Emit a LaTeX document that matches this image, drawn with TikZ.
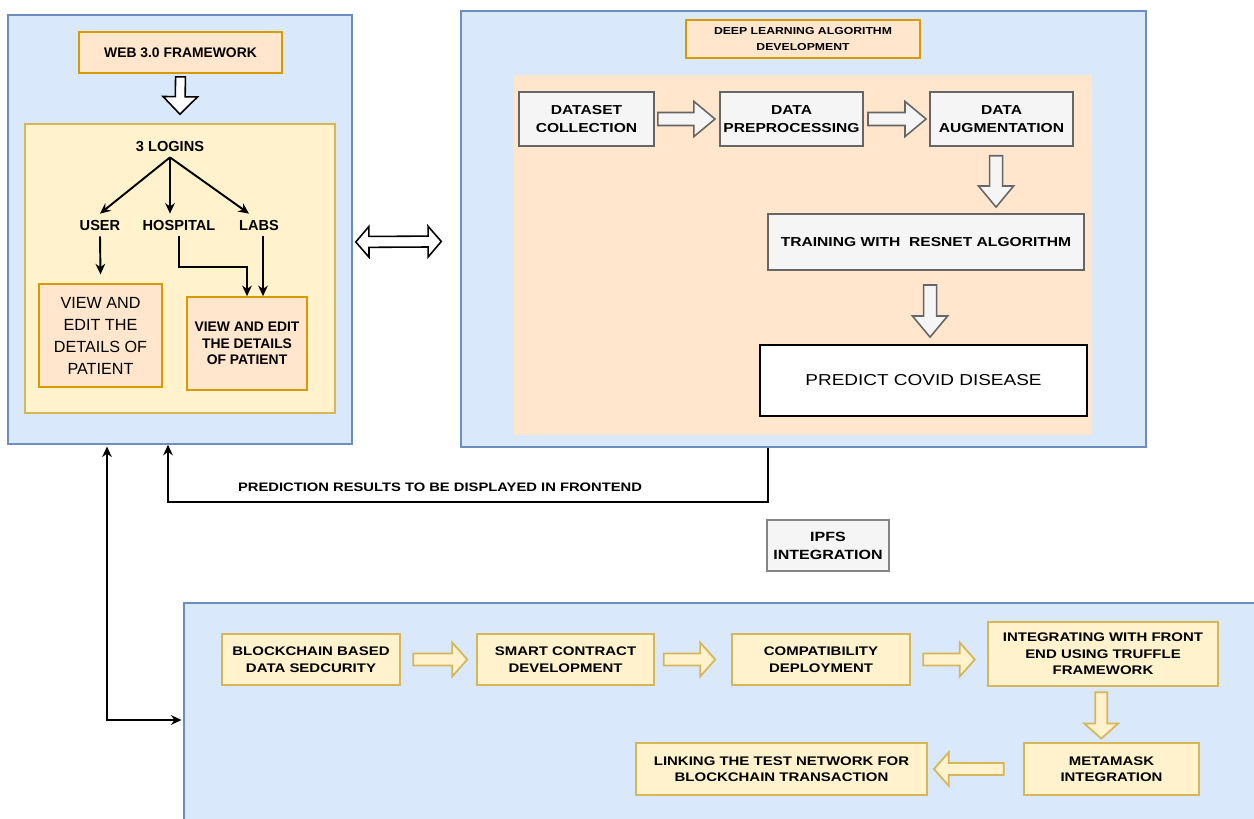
\documentclass[tikz,border=0pt]{standalone}
\usepackage{fontspec}
\setmainfont{Liberation Sans}
\newfontfamily\widefont[FakeStretch=1.2]{Liberation Sans}
\usetikzlibrary{calc,arrows.meta}
\definecolor{panelfill}{HTML}{DAE8FC}
\definecolor{panelline}{HTML}{6C8EBF}
\definecolor{peachfill}{HTML}{FFE6CC}
\definecolor{peachline}{HTML}{D79B00}
\definecolor{creamfill}{HTML}{FFF2CC}
\definecolor{creamline}{HTML}{D6B656}
\definecolor{greyfill}{HTML}{F5F5F5}
\definecolor{greyline}{HTML}{666666}
\newcommand\setfs[2]{\fontsize{#1}{#2}\selectfont}
\tikzstyle{arrow} = [->,>={Stealth[length=6pt,width=5.5pt]},line width=1.1pt]
\tikzstyle{arrowboth} = [<->,>={Stealth[length=6pt,width=5.5pt]},line width=1.1pt]
\tikzstyle{panel} = [draw=panelline,fill=panelfill,line width=0.9pt]
\tikzstyle{peachbox} = [draw=peachline,fill=peachfill,line width=1pt,align=center,inner sep=1pt]
\tikzstyle{creambox} = [draw=creamline,fill=creamfill,line width=1.1pt,align=center,inner sep=1pt,font=\widefont\bfseries\setfs{7.1}{9.4}]
\tikzstyle{greybox} = [draw=greyline,fill=greyfill,line width=1.1pt,align=center,inner sep=1pt,font=\widefont\bfseries\setfs{7.4}{10.2}]
\tikzstyle{txt} = [font=\bfseries\setfs{8.3}{10}]
\tikzstyle{hollow} = [draw=black,fill=white,line width=0.9pt]
\tikzstyle{dlarrow} = [draw=greyline,fill=greyfill,line width=0.9pt,fatw=3.7pt,fath=10pt,fatl=12pt]
\tikzstyle{barrow} = [draw=creamline,fill=creamfill,line width=1pt,fatw=3.4pt,fath=9.6pt,fatl=8.5pt]
\tikzset{
  fatw/.store in=\fatw, fath/.store in=\fath, fatl/.store in=\fatl,
  fatw=3pt, fath=9pt, fatl=10pt,
  fat/.style={to path={let \p1=(\tikztostart), \p2=(\tikztotarget), \p3=($(\p2)!\fatl!(\p1)$) in
    ($(\p1)!\fatw!90:(\p2)$) -- ($(\p3)!\fatw!90:(\p2)$) -- ($(\p3)!\fath!90:(\p2)$) -- (\p2)
    -- ($(\p3)!\fath!-90:(\p2)$) -- ($(\p3)!\fatw!-90:(\p2)$) -- ($(\p1)!\fatw!-90:(\p2)$) -- cycle}},
  fatboth/.style={to path={let \p1=(\tikztostart), \p2=(\tikztotarget), \p3=($(\p2)!\fatl!(\p1)$), \p4=($(\p1)!\fatl!(\p2)$) in
    (\p1) -- ($(\p4)!\fath!90:(\p2)$) -- ($(\p4)!\fatw!90:(\p2)$) -- ($(\p3)!\fatw!90:(\p2)$) -- ($(\p3)!\fath!90:(\p2)$) -- (\p2)
    -- ($(\p3)!\fath!-90:(\p2)$) -- ($(\p3)!\fatw!-90:(\p2)$) -- ($(\p4)!\fatw!-90:(\p2)$) -- ($(\p4)!\fath!-90:(\p2)$) -- cycle}}
}

\begin{document}
\begin{tikzpicture}[x=0.02cm,y=-0.02cm]
    \fill[white] (0,0) rectangle (1254,818);
    \useasboundingbox (0,0) rectangle (1254,818);

    % web 3.0 panel
    \node[panel, minimum width=6.88cm, minimum height=8.58cm] (lp) at (180,229.5) {};
    \node[creambox, minimum width=6.2cm, minimum height=5.78cm] (yp) at (180,268.5) {};
    \node[peachbox, minimum width=4.06cm, minimum height=0.82cm, font=\bfseries\setfs{7.9}{9}] (web) at (180.5,52.5) {WEB 3.0 FRAMEWORK};
    \node[txt] (logins) at (170,146) {3 LOGINS};
    \node[txt] (user) at (100,225) {USER};
    \node[txt] (hosp) at (179,225) {HOSPITAL};
    \node[txt] (labs) at (259,225) {LABS};
    \node[peachbox, minimum width=2.46cm, minimum height=2.06cm, font=\setfs{9.2}{12.5}] (ubox) at (100.5,335.5) {VIEW AND\\EDIT THE\\DETAILS OF\\PATIENT};
    \node[peachbox, minimum width=2.4cm, minimum height=1.86cm, font=\bfseries\setfs{7.9}{9.4}] (hbox) at (247,343.5) {VIEW AND EDIT\\THE DETAILS\\OF PATIENT};

    \draw[hollow] ([yshift=-1.7pt]web.south) to[fat, fatw=2.8pt, fath=9.8pt, fatl=10pt] ([yshift=5pt]yp.north);
    \draw[arrow] (logins.south) -- (user.north);
    \draw[arrow] (logins.south) -- (logins.south |- hosp.north);
    \draw[arrow] (logins.south) -- ([xshift=-0.2cm]labs.north);
    \draw[arrow] (user.south) -- ([yshift=5pt]ubox.north);
    \draw[arrow] (hosp.south) -- ++(0,31) -| (hbox.north);
    \coordinate (labsout) at ([xshift=0.08cm]labs.south);
    \draw[arrow] (labsout) -- (labsout |- hbox.north);

    % deep learning panel
    \node[panel, minimum width=13.7cm, minimum height=8.72cm] (rp) at (803.5,229) {};
    \node[fill=peachfill, minimum width=11.56cm, minimum height=7.2cm] (dlarea) at (803,255) {};
    \node[peachbox, minimum width=4.68cm, minimum height=0.76cm, font=\widefont\bfseries\setfs{5.8}{9.6}] (dltitle) at (803,39) {DEEP LEARNING ALGORITHM\\DEVELOPMENT};
    \node[greybox, minimum width=2.7cm, minimum height=1.08cm] (dsc) at (586.5,119) {DATASET\\COLLECTION};
    \node[greybox, minimum width=2.86cm, minimum height=1.08cm] (dpp) at (791.5,119) {DATA\\PREPROCESSING};
    \node[greybox, minimum width=2.86cm, minimum height=1.08cm] (dau) at (1001.5,119) {DATA\\AUGMENTATION};
    \node[greybox, minimum width=6.32cm, minimum height=1.12cm] (train) at (926,242) {TRAINING WITH\ \ RESNET ALGORITHM};
    \node[draw=black, fill=white, line width=1pt, minimum width=6.54cm, minimum height=1.42cm, font=\widefont\setfs{9}{11}] (pred) at (923.5,380.5) {PREDICT COVID DISEASE};

    \draw[dlarrow] ([xshift=1.7pt]dsc.east) to[fat] ([xshift=-2.3pt]dpp.west);
    \draw[dlarrow] ([xshift=2.3pt]dpp.east) to[fat] ([xshift=-1.7pt]dau.west);
    \coordinate (augout) at ([xshift=-3.1pt,yshift=-5pt]dau.south);
    \coordinate (augin) at (augout |- train.north);
    \draw[dlarrow] (augout) to[fat] ([yshift=3.4pt]augin);
    \coordinate (trout) at ([xshift=2.3pt,yshift=-8pt]train.south);
    \coordinate (trin) at (trout |- pred.north);
    \draw[dlarrow] (trout) to[fat] ([yshift=4pt]trin);

    \draw[hollow] ([xshift=1.7pt,yshift=-7.1pt]lp.east) to[fatboth, fatw=3.1pt, fath=8.7pt, fatl=7.5pt] ([xshift=-10.8pt,yshift=-7.1pt]rp.west);

    % results back to frontend
    \node[txt, font=\widefont\bfseries\setfs{7}{9}] (predlbl) at (440,487) {PREDICTION RESULTS TO BE DISPLAYED IN FRONTEND};
    \coordinate (predturn) at (768,502);
    \coordinate (predback) at (168,502);
    \draw[arrow] (rp.south -| predturn) -- (predturn) -- (predback) -- (lp.south -| predback);

    \node[greybox, draw=greyline!80, line width=0.9pt, minimum width=2.44cm, minimum height=1.02cm, font=\widefont\bfseries\setfs{7.6}{10.2}] (ipfs) at (828,545.5) {IPFS\\INTEGRATION};

    % blockchain panel
    \node[panel, minimum width=21.56cm, minimum height=4.54cm] (bp) at (723,716.5) {};
    \node[creambox, minimum width=3.56cm, minimum height=1.02cm] (bcs) at (311,659.5) {BLOCKCHAIN BASED\\DATA SEDCURITY};
    \node[creambox, minimum width=3.54cm, minimum height=1.02cm] (scd) at (565.5,659.5) {SMART CONTRACT\\DEVELOPMENT};
    \node[creambox, minimum width=3.56cm, minimum height=1.02cm] (cdep) at (821,659.5) {COMPATIBILITY\\DEPLOYMENT};
    \node[creambox, minimum width=4.6cm, minimum height=1.28cm] (ifront) at (1103,654) {INTEGRATING WITH FRONT\\END USING TRUFFLE\\FRAMEWORK};
    \node[creambox, minimum width=3.5cm, minimum height=1.04cm] (meta) at (1111.5,769) {METAMASK\\INTEGRATION};
    \node[creambox, minimum width=5.82cm, minimum height=1.04cm] (link) at (781.5,769) {LINKING THE TEST NETWORK FOR\\BLOCKCHAIN TRANSACTION};

    \draw[barrow] ([xshift=7pt]bcs.east) to[fat] ([xshift=-5pt]scd.west);
    \draw[barrow] ([xshift=5pt]scd.east) to[fat] ([xshift=-9pt]cdep.west);
    \coordinate (cdin) at (cdep.east -| ifront.west);
    \draw[barrow] ([xshift=7pt]cdep.east) to[fat] ([xshift=-7pt]cdin);
    \coordinate (ifout) at ([xshift=-1pt,yshift=-3pt]ifront.south);
    \coordinate (ifin) at (ifout |- meta.north);
    \draw[barrow] (ifout) to[fat] ([yshift=2pt]ifin);
    \draw[barrow] ([xshift=-11pt]meta.west) to[fat] ([xshift=3.4pt]link.east);

    \coordinate (feedcorner) at (107,720);
    \draw[arrowboth, shorten >=1pt, shorten <=1pt] (lp.south -| feedcorner) -- (feedcorner) -- (feedcorner -| bp.west);
\end{tikzpicture}
\end{document}
